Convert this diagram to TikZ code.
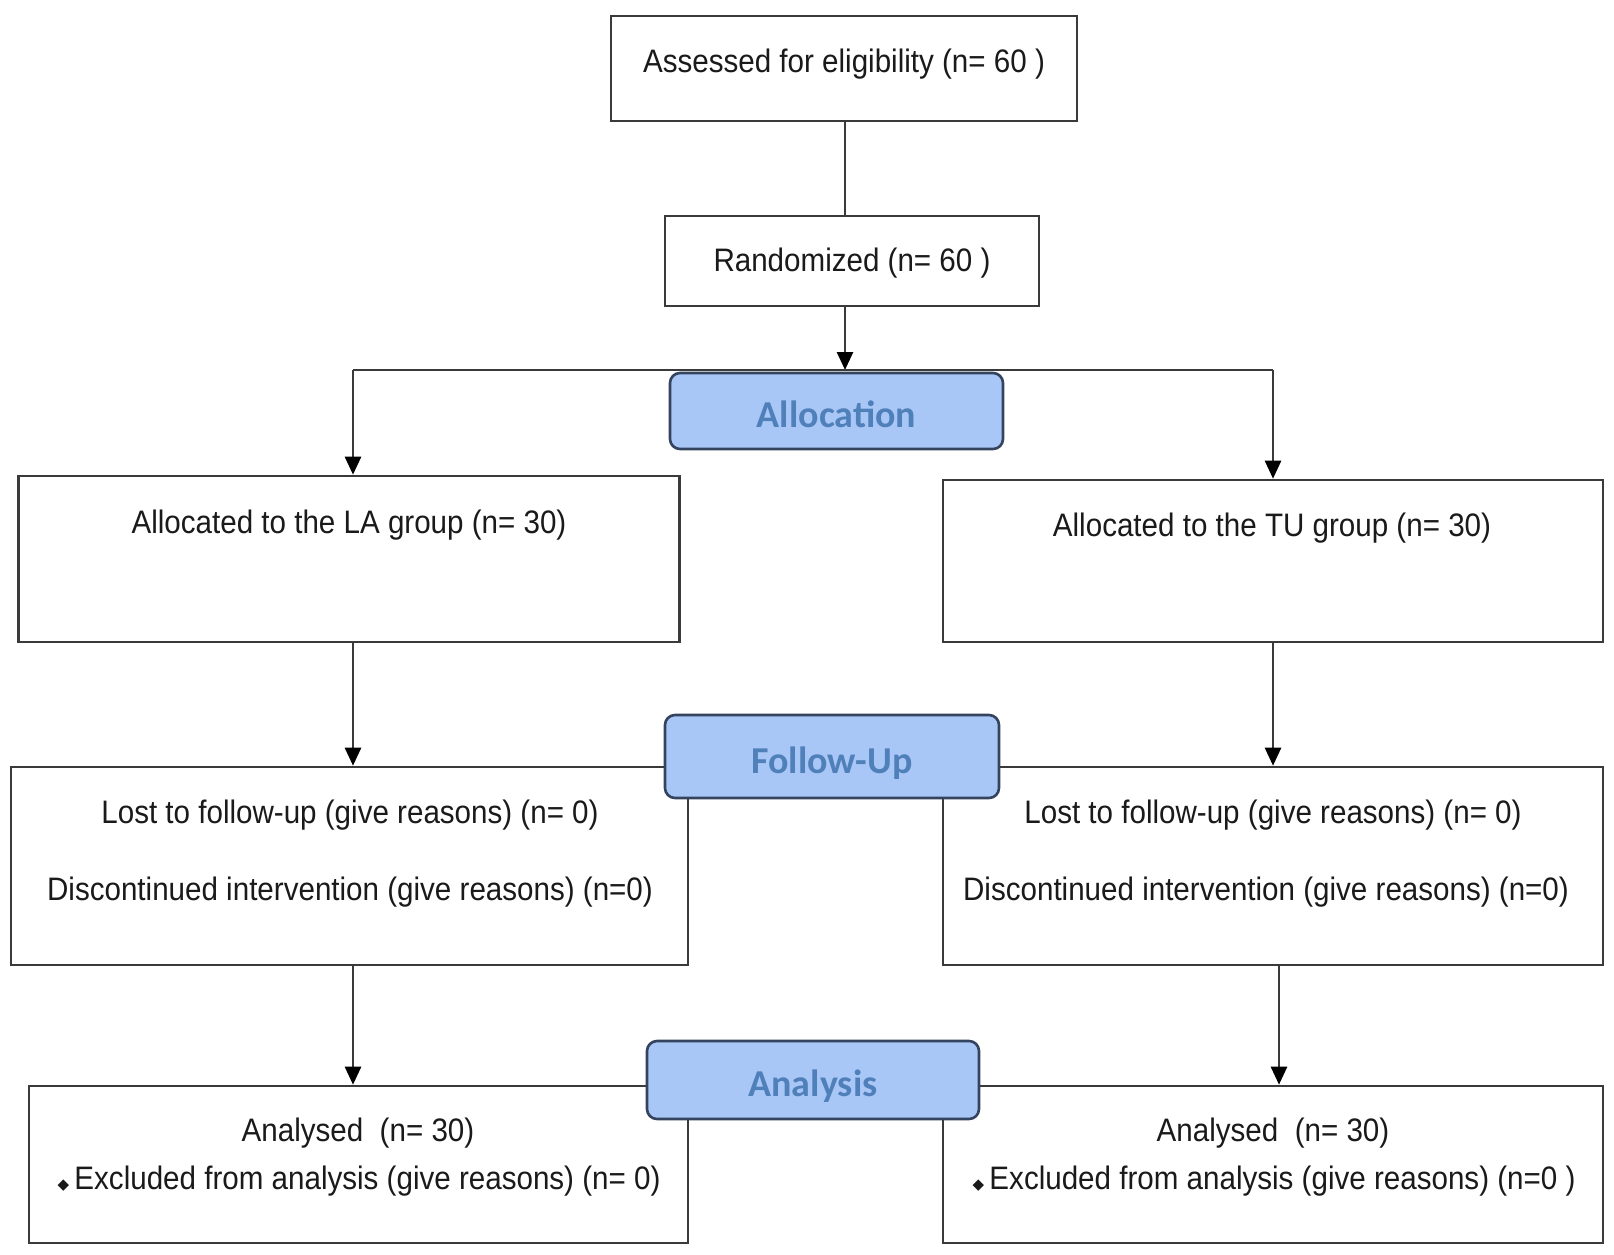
\documentclass[tikz,border=0pt]{standalone}
\usepackage{fontspec}
\setmainfont{Liberation Sans}[FakeStretch=0.91]
\newfontfamily\labelfont{Carlito}
\newfontfamily\symfont{DejaVu Sans}
\usetikzlibrary{arrows.meta}
\definecolor{boxgray}{HTML}{3A3A3A}
\definecolor{labelfill}{HTML}{A9C7F6}
\definecolor{labeldraw}{HTML}{34435E}
\definecolor{labeltext}{HTML}{5080BA}
\definecolor{txt}{HTML}{1A1A1A}
\tikzset{
  box/.style={draw=boxgray, line width=2.6pt, fill=white, inner sep=0pt, rectangle},
  phase/.style={draw=labeldraw, line width=2.6pt, fill=labelfill, rounded corners=10pt,
    inner sep=0pt, text height=33pt, text depth=0pt, text=labeltext,
    font=\labelfont\bfseries\fontsize{38}{40}\selectfont},
  txtnode/.style={inner sep=0pt, text=txt, yshift=-2pt, font=\fontsize{32.5}{36}\selectfont},
  conn/.style={draw=boxgray, line width=2.6pt},
  arr/.style={conn, -{Triangle[length=18pt,width=16pt,color=black]}},
}
\newcommand{\bul}{{\symfont\fontsize{15}{15}\selectfont ◆}\,}
\begin{document}
\begin{tikzpicture}[x=1pt,y=-1pt]
\useasboundingbox (0,0) rectangle (1614,1254);
% boxes
\node[box, minimum width=466pt, minimum height=105pt] (assess) at (844,68.5) {};
\node[box, minimum width=374pt, minimum height=90pt] (rand) at (852,261) {};
\node[box, minimum width=661pt, minimum height=166pt] (la) at (349,559) {};
\node[box, minimum width=660pt, minimum height=162pt] (tu) at (1273,561) {};
\node[box, minimum width=677pt, minimum height=198pt] (fl) at (349.5,866) {};
\node[box, minimum width=660pt, minimum height=198pt] (fr) at (1273,866) {};
\node[box, minimum width=659pt, minimum height=157pt] (al) at (358.5,1164.5) {};
\node[box, minimum width=660pt, minimum height=157pt] (ar) at (1273,1164.5) {};
% texts
\node[txtnode] (tassess) at (844,62) {Assessed for eligibility (n= 60 )};
\node[txtnode] (trand) at (852,261) {Randomized (n= 60 )};
\node[txtnode] (tla) at (349,523) {Allocated to the LA group (n= 30)};
\node[txtnode] (ttu) at (1272,526) {Allocated to the TU group (n= 30)};
\node[txtnode] (tfl1) at (350,813) {Lost to follow-up (give reasons) (n= 0)};
\node[txtnode] (tfl2) at (350,890) {Discontinued intervention (give reasons) (n=0)};
\node[txtnode] (tfr1) at (1273,813) {Lost to follow-up (give reasons) (n= 0)};
\node[txtnode] (tfr2) at (1266,890) {Discontinued intervention (give reasons) (n=0)};
\node[txtnode] (tal1) at (358,1131) {Analysed\ \ (n= 30)};
\node[txtnode] (tal2) at (359,1179) {\bul Excluded from analysis (give reasons) (n= 0)};
\node[txtnode] (tar1) at (1273,1131) {Analysed\ \ (n= 30)};
\node[txtnode] (tar2) at (1274,1179) {\bul Excluded from analysis (give reasons) (n=0 )};
% connectors
\coordinate (split) at (845,370);
\coordinate (colL) at (353,0);
\coordinate (colR) at (1273,0);
\coordinate (colR2) at (1279,0);
\draw[conn] (assess.south -| split) -- (rand.north -| split);
\draw[arr] (rand.south -| split) -- (split);
\draw[conn] (colL |- split) -- (colR |- split);
\draw[arr] (colL |- split) -- (la.north -| colL);
\draw[arr] (colR |- split) -- (tu.north -| colR);
\draw[arr] (la.south -| colL) -- (fl.north -| colL);
\draw[arr] (tu.south -| colR) -- (fr.north -| colR);
\draw[arr] (fl.south -| colL) -- (al.north -| colL);
\draw[arr] (fr.south -| colR2) -- (ar.north -| colR2);
% phase labels
\node[phase, minimum width=333pt, minimum height=76pt] (alloc) at (836.5,411) {Allocation};
\node[phase, minimum width=334pt, minimum height=83pt] (follow) at (832,756.5) {Follow-Up};
\node[phase, minimum width=332pt, minimum height=78pt] (analysis) at (813,1080) {Analysis};
\end{tikzpicture}
\end{document}
